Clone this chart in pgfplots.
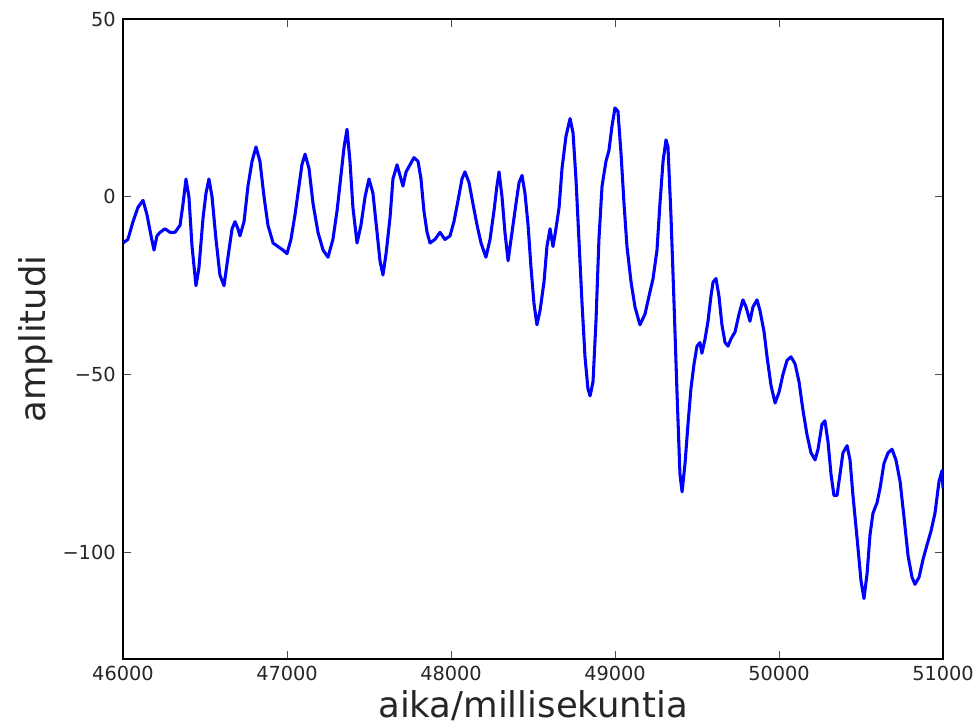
\documentclass[border=0pt]{standalone}
\usepackage{fontspec}
\setmainfont{DejaVu Sans}
\usepackage{pgfplots}
\pgfplotsset{compat=1.18}
\begin{document}
\begin{tikzpicture}
\begin{axis}[
  scale only axis,
  width=615pt, height=480pt,
  xmin=46000, xmax=51000, ymin=-130, ymax=50,
  xtick={46000,47000,48000,49000,50000,51000},
  ytick={-100,-50,0,50},
  yticklabels={−100,−50,0,50},
  /pgf/number format/assume math mode=true,
  /pgf/number format/set thousands separator={},
  scaled x ticks=false,
  tick label style={font=\fontsize{14.5}{17}\selectfont, text=black!85},
  label style={font=\fontsize{26.6}{30}\selectfont, text=black!85},
  xlabel={aika/millisekuntia},
  ylabel={amplitudi},
  tick align=inside,
  major tick length=6pt,
  tick style={black!70, line width=0.6pt},
  axis line style={black, line width=0.8pt},
  xtick pos=both, ytick pos=both,
  x tick label style={yshift=-2pt},
  y tick label style={xshift=-2pt},
]
\addplot[color={rgb,255:red,0;green,0;blue,255}, line width=2.3pt, line join=round] coordinates {
(46000,-13) (46030,-12) (46061,-7) (46091,-3) (46122,-1) (46146,-5) (46171,-11) (46189,-15)
(46207,-11) (46226,-10) (46256,-9) (46287,-10) (46317,-10) (46348,-8) (46366,-2) (46384,5)
(46402,0) (46421,-14) (46445,-25) (46463,-20) (46488,-6) (46506,1) (46524,5) (46543,0)
(46567,-12) (46591,-22) (46616,-25) (46640,-17) (46665,-9) (46683,-7) (46701,-9) (46713,-11)
(46738,-7) (46762,3) (46787,10) (46811,14) (46835,10) (46860,0) (46884,-8) (46915,-13)
(46945,-14) (46976,-15) (47000,-16) (47024,-12) (47049,-5) (47073,3) (47091,9) (47110,12)
(47134,8) (47159,-2) (47189,-10) (47220,-15) (47250,-17) (47280,-12) (47305,-4) (47329,6)
(47348,14) (47366,19) (47384,10) (47402,-3) (47427,-13) (47451,-8) (47476,0) (47500,5)
(47524,1) (47549,-10) (47567,-18) (47585,-22) (47604,-16) (47628,-6) (47646,5) (47671,9)
(47689,6) (47707,3) (47726,7) (47750,9) (47774,11) (47799,10) (47817,5) (47835,-4)
(47854,-10) (47872,-13) (47902,-12) (47933,-10) (47963,-12) (47994,-11) (48018,-7) (48043,-1)
(48067,5) (48085,7) (48110,4) (48134,-2) (48159,-8) (48183,-13) (48213,-17) (48238,-12)
(48262,-4) (48280,3) (48293,7) (48311,0) (48329,-10) (48348,-18) (48372,-10) (48396,-2)
(48415,4) (48433,6) (48451,1) (48470,-8) (48488,-20) (48506,-30) (48524,-36) (48543,-32)
(48567,-24) (48585,-14) (48604,-9) (48622,-14) (48640,-9) (48659,-3) (48677,8) (48701,17)
(48726,22) (48744,18) (48762,5) (48780,-12) (48799,-30) (48817,-45) (48835,-54) (48848,-56)
(48866,-52) (48884,-35) (48902,-12) (48921,3) (48945,10) (48963,13) (48982,20) (49000,25)
(49018,24) (49037,12) (49055,-2) (49073,-14) (49098,-24) (49122,-31) (49152,-36) (49183,-33)
(49207,-28) (49232,-23) (49256,-15) (49274,-2) (49293,10) (49311,16) (49323,14) (49341,-5)
(49360,-30) (49378,-55) (49396,-78) (49409,-83) (49427,-75) (49445,-64) (49463,-54) (49482,-47)
(49500,-42) (49518,-41) (49530,-44) (49549,-40) (49567,-35) (49585,-28) (49598,-24) (49616,-23)
(49634,-28) (49652,-36) (49671,-41) (49689,-42) (49707,-40) (49732,-38) (49756,-33) (49780,-29)
(49799,-31) (49823,-35) (49841,-31) (49866,-29) (49884,-32) (49909,-38) (49927,-45) (49951,-53)
(49976,-58) (50000,-55) (50024,-50) (50049,-46) (50073,-45) (50098,-47) (50122,-52) (50146,-60)
(50171,-67) (50195,-72) (50220,-74) (50238,-71) (50262,-64) (50280,-63) (50299,-69) (50317,-78)
(50335,-84) (50354,-84) (50372,-78) (50390,-72) (50415,-70) (50433,-74) (50451,-84) (50476,-96)
(50500,-108) (50518,-113) (50537,-106) (50555,-95) (50573,-89) (50598,-86) (50616,-82) (50640,-75)
(50665,-72) (50689,-71) (50713,-74) (50738,-80) (50762,-90) (50787,-101) (50811,-107) (50829,-109)
(50854,-107) (50878,-102) (50902,-98) (50927,-94) (50951,-89) (50976,-80) (50994,-77) (51000,-82)
};
\end{axis}
\pgfresetboundingbox
\path ([shift={(-92.25pt,-48.75pt)}]current axis.south west) rectangle ([shift={(25.5pt,14.25pt)}]current axis.north east);
\end{tikzpicture}
\end{document}
